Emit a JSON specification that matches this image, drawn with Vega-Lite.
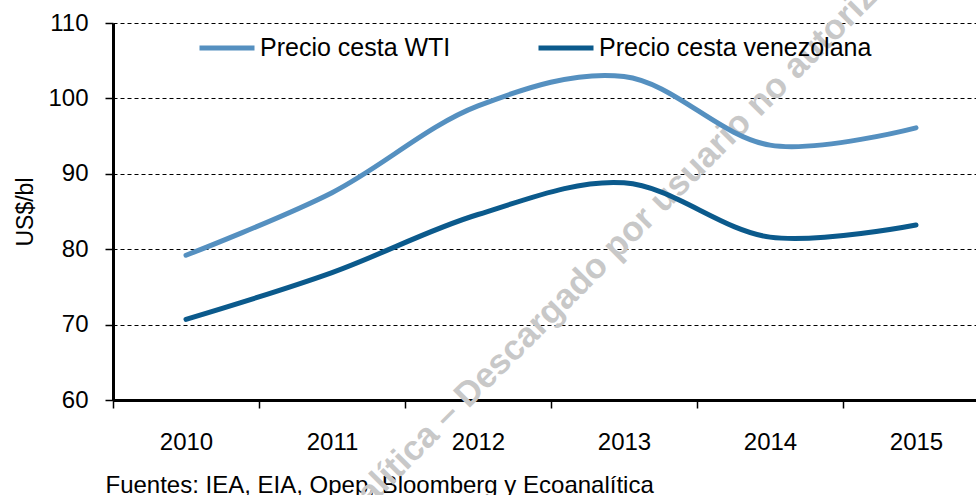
{
  "$schema": "https://vega.github.io/schema/vega-lite/v6.json",
  "autosize": {"type": "none"},
  "padding": {"left": 113, "top": 23, "right": 0, "bottom": 95},
  "width": 863,
  "height": 377,
  "config": {
    "font": "Liberation Sans",
    "view": {"stroke": null},
    "axis": {"labelFont": "Liberation Sans", "titleFont": "Liberation Sans", "labelColor": "#000", "titleColor": "#000"}
  },
  "data": {
    "values": [
      {"year": "2010", "series": "Precio cesta WTI", "value": 79.2},
      {"year": "2011", "series": "Precio cesta WTI", "value": 87.5},
      {"year": "2012", "series": "Precio cesta WTI", "value": 99.0},
      {"year": "2013", "series": "Precio cesta WTI", "value": 102.9},
      {"year": "2014", "series": "Precio cesta WTI", "value": 93.8},
      {"year": "2015", "series": "Precio cesta WTI", "value": 96.1},
      {"year": "2010", "series": "Precio cesta venezolana", "value": 70.7},
      {"year": "2011", "series": "Precio cesta venezolana", "value": 76.9},
      {"year": "2012", "series": "Precio cesta venezolana", "value": 84.6},
      {"year": "2013", "series": "Precio cesta venezolana", "value": 88.8},
      {"year": "2014", "series": "Precio cesta venezolana", "value": 81.6},
      {"year": "2015", "series": "Precio cesta venezolana", "value": 83.2}
    ]
  },
  "encoding": {
    "x": {
      "field": "year", "type": "ordinal", "bandPosition": 0.5,
      "scale": {"type": "band", "paddingInner": 0, "paddingOuter": 0, "range": [0, 876]},
      "axis": {
        "tickBand": "extent", "labelAngle": 0, "labelFontSize": 24, "labelPadding": 22,
        "tickSize": 8, "tickColor": "#000", "tickWidth": 1.5,
        "domainColor": "#000", "domainWidth": 3, "grid": false,
        "title": "Fuentes: IEA, EIA, Opep, Bloomberg y Ecoanalítica",
        "titleFontSize": 24, "titleFontWeight": "normal", "titleAnchor": "start",
        "titleAlign": "left", "titleBaseline": "alphabetic", "titleX": -8, "titleY": 92
      }
    },
    "y": {
      "field": "value", "type": "quantitative",
      "scale": {"domain": [60, 110], "nice": false, "zero": false},
      "axis": {
        "values": [60, 70, 80, 90, 100, 110], "labelFontSize": 24, "labelPadding": 17,
        "tickSize": 8, "tickColor": "#000", "tickWidth": 1.5,
        "domainColor": "#000", "domainWidth": 3,
        "grid": true, "gridColor": "#000", "gridWidth": 1, "gridDash": [4, 3], "gridOpacity": 1,
        "title": "US$/bl", "titleFontSize": 23, "titleFontWeight": "normal", "titlePadding": 10
      }
    }
  },
  "layer": [
    {
      "data": {"values": [{"year": "2013", "value": 81.5, "label": "Ecoanalítica – Descargado por usuario no autorizado"}]},
      "mark": {"type": "text", "angle": -45, "fontSize": 35, "fontWeight": "bold", "color": "#c8c8c8", "align": "center", "baseline": "middle", "dx": -32},
      "encoding": {
        "text": {"field": "label"}
      }
    },
    {
      "mark": {"type": "line", "strokeWidth": 5, "interpolate": "catmull-rom", "strokeCap": "round"},
      "encoding": {
        "color": {
          "field": "series", "type": "nominal",
          "scale": {"domain": ["Precio cesta WTI", "Precio cesta venezolana"], "range": ["#5590c0", "#0b5a8c"]},
          "legend": {
            "title": null, "orient": "none", "legendX": 84, "legendY": -5, "direction": "horizontal",
            "symbolType": "stroke", "symbolSize": 3025, "symbolStrokeWidth": 5,
            "labelFontSize": 25, "labelLimit": 0, "labelColor": "#000", "labelOffset": 3, "columnPadding": 77, "padding": 0
          }
        }
      }
    }
  ]
}
